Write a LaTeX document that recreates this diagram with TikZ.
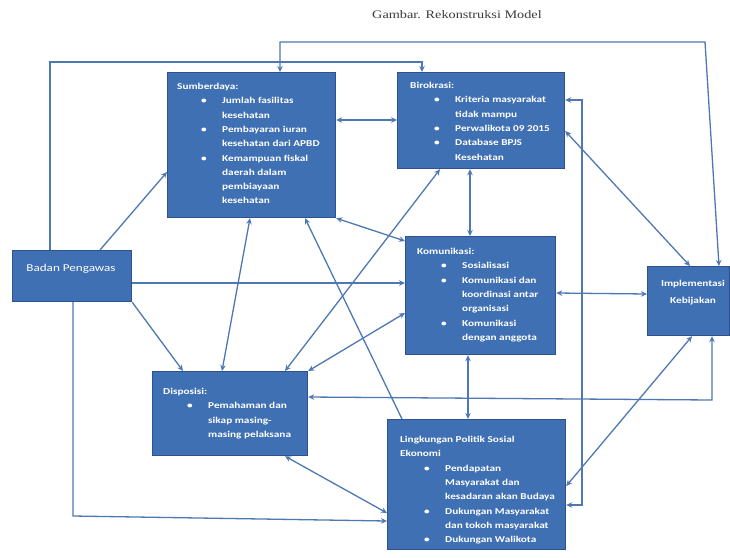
\documentclass[tikz,border=0pt]{standalone}
\usepackage{fontspec}
\setmainfont{Carlito}
\newfontfamily\boxfont[FakeStretch=1.25]{Carlito}
\newfontfamily\titlefont[FakeStretch=1.24]{Liberation Serif}
\usetikzlibrary{arrows.meta}
\definecolor{boxblue}{RGB}{64,112,180}
\definecolor{boxedge}{RGB}{47,82,143}
\definecolor{linkblue}{RGB}{78,120,180}
\definecolor{titlegray}{RGB}{60,60,60}
\newcommand{\bl}[1]{\hspace*{24pt}\makebox[21pt][l]{\textbullet}#1}
\newcommand{\cl}[1]{\hspace*{45pt}#1}
\tikzset{
  box/.style={draw=boxedge, line width=1.2pt, fill=boxblue, anchor=north west, inner sep=0pt},
  boxtext/.style={anchor=north west, inner sep=0pt, align=left, text=white,
    font=\boxfont\bfseries\fontsize{9}{14.3}\selectfont},
  link/.style={draw=linkblue, line width=1.3pt},
  arr/.style={link, ->},
  dbl/.style={link, <->},
}
\begin{document}
\begin{tikzpicture}[x=1pt,y=-1pt,>={Stealth[length=6pt,width=5.5pt]}]
\useasboundingbox (0,0) rectangle (730,557);
\fill[white] (0,0) rectangle (730,557);

\node[text=titlegray, font=\titlefont\fontsize{11.5}{13}\selectfont] (judul) at (457,15) {Gambar. Rekonstruksi Model};

% boxes
\node[box, minimum width=168pt, minimum height=145pt] (sumber) at (167,72) {};
\node[box, minimum width=167pt, minimum height=96pt] (biro) at (397,72) {};
\node[box, minimum width=150pt, minimum height=118pt] (komu) at (405,236) {};
\node[box, minimum width=155pt, minimum height=84pt] (dispo) at (152,371) {};
\node[box, minimum width=178pt, minimum height=130pt] (ling) at (387,419) {};
\node[box, minimum width=82pt, minimum height=69pt] (impl) at (647,266) {};
\node[box, minimum width=119pt, minimum height=51pt] (badan) at (12,250) {};

% texts
\node[boxtext] (sumbertxt) at (177,83) {Sumberdaya:\\
\bl{Jumlah fasilitas}\\
\cl{kesehatan}\\
\bl{Pembayaran iuran}\\
\cl{kesehatan dari APBD}\\
\bl{Kemampuan fiskal}\\
\cl{daerah dalam}\\
\cl{pembiayaan}\\
\cl{kesehatan}};

\node[boxtext] (birotxt) at (410,82) {Birokrasi:\\
\bl{Kriteria masyarakat}\\
\cl{tidak mampu}\\
\bl{Perwalikota 09 2015}\\
\bl{Database BPJS}\\
\cl{Kesehatan}};

\node[boxtext] (komutxt) at (417,248) {Komunikasi:\\
\bl{Sosialisasi}\\
\bl{Komunikasi dan}\\
\cl{koordinasi antar}\\
\cl{organisasi}\\
\bl{Komunikasi}\\
\cl{dengan anggota}};

\node[boxtext] (dispotxt) at (163,388) {Disposisi:\\
\bl{Pemahaman dan}\\
\cl{sikap masing-}\\
\cl{masing pelaksana}};

\node[boxtext] (lingtxt) at (400,436) {Lingkungan Politik Sosial\\
Ekonomi\\
\bl{Pendapatan}\\
\cl{Masyarakat dan}\\
\cl{kesadaran akan Budaya}\\
\bl{Dukungan Masyarakat}\\
\cl{dan tokoh masyarakat}\\
\bl{Dukungan Walikota}};

\node[text=white, align=center, inner sep=0pt, font=\boxfont\bfseries\fontsize{9}{17}\selectfont] (impltxt) at (693,293) {Implementasi\\Kebijakan};

\node[text=white, inner sep=0pt, font=\boxfont\fontsize{10.5}{12}\selectfont] (badantxt) at (71,269) {Badan Pengawas};

% connectors
\draw[dbl] (280,0 |- sumber.north) -- (280,42) -- (705,42) -- (719,0 |- impl.north);
\draw[arr] (50,0 |- badan.north) -- (50,62) -- (422,62) -- (422,0 |- biro.north);
\draw[arr] (100,0 |- badan.north) -- (sumber.west |- 0,172);
\draw[arr] (badan.east |- 0,283) -- (komu.west |- 0,283);
\draw[arr] (badan.south east) -- (183,0 |- dispo.north);
\draw[arr] (73,0 |- badan.south) -- (73,516) -- (ling.west |- 0,521);
\draw[dbl] (sumber.east |- 0,120) -- (biro.west |- 0,120);
\draw[dbl] (250,0 |- sumber.south) -- (222,0 |- dispo.north);
\draw[dbl] (sumber.south east) -- (komu.west |- 0,241);
\draw[arr] (402,0 |- ling.north) -- (305,0 |- sumber.south);
\draw[dbl] (470,0 |- biro.south) -- (470,0 |- komu.north);
\draw[dbl] (440,0 |- biro.south) -- (285,0 |- dispo.north);
\draw[dbl] (biro.east |- 0,131) -- (690,0 |- impl.north);
\draw[dbl] (komu.east |- 0,293) -- (impl.west |- 0,294);
\draw[dbl] (468,0 |- komu.south) -- (468,0 |- ling.north);
\draw[dbl] (komu.west |- 0,313) -- (dispo.north east);
\draw[dbl] (712,0 |- impl.south) -- (712,400) -- (dispo.east |- 0,397);
\draw[dbl] (ling.east |- 0,486) -- (692,0 |- impl.south);
\draw[dbl] (285,0 |- dispo.south) -- (ling.west |- 0,513);
\draw[dbl] (biro.east |- 0,100) -- (582,100) -- (582,505) -- (ling.east |- 0,505);
\end{tikzpicture}
\end{document}
